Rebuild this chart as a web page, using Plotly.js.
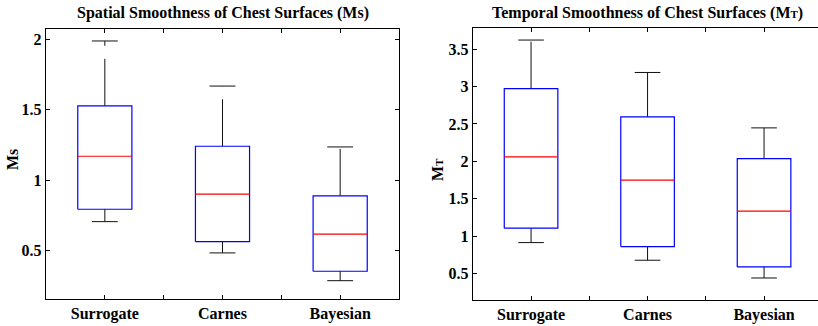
<!DOCTYPE html>
<html>
<head>
<meta charset="utf-8">
<script src="https://cdn.plot.ly/plotly-3.0.1.min.js"></script>
<style>html,body{margin:0;padding:0;background:#fff;}#chart{width:818px;height:326px;}</style>
</head>
<body>
<div id="chart"></div>
<script>
// ---- data ----
const categories = ['Surrogate', 'Carnes', 'Bayesian'];
const positions = [1, 2, 3];
const xTickVals = [1, 1.5, 2, 2.5, 3];
const xTickText = ['Surrogate', '', 'Carnes', '', 'Bayesian'];

const spatialLower  = [0.706, 0.484, 0.287];
const spatialQ1     = [0.794, 0.564, 0.354];
const spatialMedian = [1.170, 0.901, 0.618];
const spatialQ3     = [1.528, 1.241, 0.889];
const spatialUpper  = [1.988, 1.668, 1.236];

const temporalLower  = [0.915, 0.679, 0.442];
const temporalQ1     = [1.107, 0.861, 0.590];
const temporalMedian = [2.060, 1.750, 1.336];
const temporalQ3     = [2.970, 2.594, 2.035];
const temporalUpper  = [3.620, 3.187, 2.447];

const spatialTicks = [0.5, 1, 1.5, 2];
const temporalTicks = [0.5, 1, 1.5, 2, 2.5, 3, 3.5];

const spatialTitle = 'Spatial Smoothness of Chest Surfaces (Ms)';
const temporalTitle = 'Temporal Smoothness of Chest Surfaces (M<span style="font-size:11px">T</span>)';
const spatialYLabel = 'Ms';
const temporalYLabel = 'M<span style="font-size:11px">T</span>';

// ---- style ----
const BOX_HW = 0.23, CAP_HW = 0.11;
const FONT = 'Liberation Serif';

function boxTraces(xa, ya, lower, q1, med, q3, upper) {
  const tr = [];
  const base = {xaxis: xa, yaxis: ya, mode: 'lines', hoverinfo: 'skip', showlegend: false};
  positions.forEach((p, i) => {
    tr.push(Object.assign({}, base, {x: [p, p], y: [q3[i], upper[i]],
      line: {color: '#111', width: 1, dash: '47px,13px'}}));
    tr.push(Object.assign({}, base, {x: [p, p], y: [q1[i], lower[i]],
      line: {color: '#111', width: 1, dash: '47px,13px'}}));
    tr.push(Object.assign({}, base, {x: [p - CAP_HW, p + CAP_HW, null, p - CAP_HW, p + CAP_HW],
      y: [upper[i], upper[i], null, lower[i], lower[i]],
      line: {color: '#111', width: 1}}));
    tr.push(Object.assign({}, base, {x: [p - BOX_HW, p + BOX_HW, p + BOX_HW, p - BOX_HW, p - BOX_HW],
      y: [q1[i], q1[i], q3[i], q3[i], q1[i]],
      line: {color: '#0000ff', width: 1.2}}));
    tr.push(Object.assign({}, base, {x: [p - BOX_HW, p + BOX_HW], y: [med[i], med[i]],
      line: {color: '#ff0000', width: 1.2}}));
  });
  return tr;
}

const data = [].concat(
  boxTraces('x', 'y', spatialLower, spatialQ1, spatialMedian, spatialQ3, spatialUpper),
  boxTraces('x2', 'y2', temporalLower, temporalQ1, temporalMedian, temporalQ3, temporalUpper)
);

const tickFont = {family: FONT, size: 16, color: '#000', weight: 'bold'};
const xCommon = {
  tickmode: 'array', tickvals: xTickVals, ticktext: xTickText,
  ticks: 'inside', ticklen: 4, tickcolor: '#000', tickwidth: 1,
  showline: true, linecolor: '#000', linewidth: 1.2,
  showgrid: false, zeroline: false, tickfont: tickFont, fixedrange: true
};
const yCommon = {
  ticks: 'inside', ticklen: 4, tickcolor: '#000', tickwidth: 1,
  showline: true, linecolor: '#000', linewidth: 1.2,
  showgrid: false, zeroline: false, tickfont: tickFont, fixedrange: true
};

const W = 818, H = 326;
const layout = {
  width: W, height: H,
  margin: {l: 0, r: 0, t: 0, b: 0},
  paper_bgcolor: '#fff', plot_bgcolor: '#fff',
  font: {family: FONT, color: '#000'},
  showlegend: false, hovermode: false,
  xaxis: Object.assign({}, xCommon, {domain: [46 / W, 399 / W], range: [0.5, 3.5], anchor: 'y', mirror: 'ticks'}),
  yaxis: Object.assign({}, yCommon, {domain: [1 - 299 / H, 1 - 29 / H], range: [0.157, 2.073],
    tickmode: 'array', tickvals: spatialTicks, anchor: 'x', mirror: 'ticks'}),
  xaxis2: Object.assign({}, xCommon, {domain: [472.8 / W, 1], range: [0.5, 3.463], anchor: 'y2', mirror: 'ticks'}),
  yaxis2: Object.assign({}, yCommon, {domain: [1 - 300 / H, 1 - 28.3 / H], range: [0.148, 3.777],
    tickmode: 'array', tickvals: temporalTicks, anchor: 'x2', mirror: false}),
  annotations: [
    {text: '<b>' + spatialTitle + '</b>', xref: 'paper', yref: 'paper', x: 222.5 / W, y: 1 - 13 / H,
     xanchor: 'center', yanchor: 'middle', showarrow: false, font: {family: FONT, size: 16, color: '#000'}},
    {text: '<b>' + temporalTitle + '</b>', xref: 'paper', yref: 'paper', x: 647.5 / W, y: 1 - 13 / H,
     xanchor: 'center', yanchor: 'middle', showarrow: false, font: {family: FONT, size: 16, color: '#000'}},
    {text: '<b>' + spatialYLabel + '</b>', xref: 'paper', yref: 'paper', x: 12 / W, y: 1 - 160 / H,
     xanchor: 'center', yanchor: 'middle', textangle: -90, showarrow: false, font: {family: FONT, size: 16, color: '#000'}},
    {text: '<b>' + temporalYLabel + '</b>', xref: 'paper', yref: 'paper', x: 437 / W, y: 1 - 170 / H,
     xanchor: 'center', yanchor: 'middle', textangle: -90, showarrow: false, font: {family: FONT, size: 16, color: '#000'}}
  ]
};

Plotly.newPlot('chart', data, layout, {displayModeBar: false, staticPlot: true});
</script>
</body>
</html>
